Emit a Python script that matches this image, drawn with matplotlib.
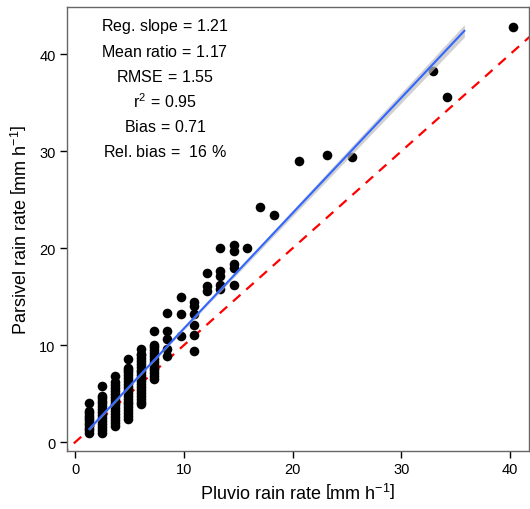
import matplotlib
matplotlib.use("Agg")
import matplotlib.pyplot as plt
import numpy as np

plt.rcParams['font.family'] = ['Liberation Sans', 'DejaVu Sans']
plt.rcParams['mathtext.fontset'] = 'custom'
plt.rcParams['mathtext.rm'] = 'Liberation Sans'
plt.rcParams['mathtext.it'] = 'Liberation Sans:italic'

# ---- data ----
col_x = [1.3, 2.5, 3.7, 4.9, 6.1, 7.3, 8.5, 9.7, 10.9, 12.1, 13.3, 14.6, 15.8]
col_y = [
    [1.0, 1.25, 1.5, 1.75, 2.0, 2.25, 2.5, 2.75, 3.0, 3.25, 4.1],
    [1.0, 1.3, 1.6, 1.9, 2.2, 2.5, 2.8, 3.1, 3.4, 3.7, 4.0, 4.3, 4.6, 4.8, 5.8],
    [1.7, 2.0, 2.3, 2.6, 2.9, 3.2, 3.5, 3.8, 4.1, 4.4, 4.7, 5.0, 5.3, 5.6, 5.9, 6.2, 6.8],
    [2.4, 2.7, 3.0, 3.3, 3.6, 3.9, 4.2, 4.5, 4.8, 5.1, 5.4, 5.7, 6.0, 6.3, 6.6,
     6.9, 7.2, 7.5, 7.7, 8.6],
    [3.9, 4.2, 4.5, 4.8, 5.1, 5.4, 5.7, 6.0, 6.3, 6.6, 6.9, 7.2, 7.5, 7.8, 8.1,
     8.4, 8.7, 9.0, 9.1, 9.6],
    [6.5, 6.8, 7.1, 7.4, 7.7, 8.0, 8.3, 8.6, 8.9, 9.2, 9.5, 9.8, 10.0, 11.5],
    [8.85, 9.6, 10.65, 11.5, 13.3],
    [11.0, 13.2, 15.0],
    [9.45, 11.1, 12.1, 13.2, 14.1, 14.5],
    [15.6, 16.1, 17.5],
    [15.8, 16.2, 17.1, 17.7, 20.0],
    [16.25, 18.0, 18.4, 19.7, 20.3],
    [20.0],
]
extra_x = [17.0, 18.3, 20.6, 23.2, 25.5, 32.9, 34.2, 40.3]
extra_y = [24.3, 23.4, 29.0, 29.6, 29.4, 38.25, 35.6, 42.8]

fit_slope = 1.19
fit_intercept = -0.18
fit_range = [1.3, 35.8]

stats_lines = [r"Reg. slope$\,=\,$1.21", r"Mean ratio$\,=\,$1.17", r"RMSE$\,=\,$1.55",
               r"r$^2\,=\,$0.95", r"Bias$\,=\,$0.71", r"Rel. bias$\,=\,$ 16 %"]

xticks = [0, 10, 20, 30, 40]
yticks = [0, 10, 20, 30, 40]

# ---- build point arrays ----
px = []
py = []
for xv, ys in zip(col_x, col_y):
    px += [xv] * len(ys)
    py += ys
px += extra_x
py += extra_y

fig = plt.figure(figsize=(5.3, 5.1), dpi=100)
ax = fig.add_axes([66.7 / 530, 1 - 451.7 / 510, (528.5 - 66.7) / 530, (451.7 - 8.3) / 510])
ax.set_xlim(-0.77, 41.7)
ax.set_ylim(-0.87, 44.85)

# 1:1 line
ax.plot([-5, 50], [-5, 50], color='#FF0000', lw=1.6, ls=(0, (4.5, 3.5)), zorder=2)

# points
ax.scatter(px, py, s=48, color='black', linewidths=0, zorder=3)

# regression + CI band
fx = np.linspace(fit_range[0], fit_range[1], 100)
fy = fit_slope * fx + fit_intercept
hw = np.sqrt(0.12 ** 2 + (0.0215 * (fx - 6.0)) ** 2)
ax.fill_between(fx, fy - hw, fy + hw, color='#BEBEBE', alpha=0.7, lw=0, zorder=4)
ax.plot(fx, fy, color='#3366FF', lw=1.5, zorder=5)

# stats text
ys_txt = [27, 52, 77, 102, 127, 152]
for t, yp in zip(stats_lines, ys_txt):
    fig.text(165 / 530, 1 - yp / 510, t, ha='center', va='center', fontsize=11.5)

ax.set_xticks(xticks)
ax.set_yticks(yticks)
ax.tick_params(direction='out', length=5, width=1, labelsize=10.5, pad=3, color='black')
for sp in ax.spines.values():
    sp.set_color('#666666')
    sp.set_linewidth(1)

ax.set_xlabel(r"Pluvio rain rate $\left[\mathrm{mm\ h^{-1}}\right]$", fontsize=13, labelpad=5)
ax.set_ylabel(r"Parsivel rain rate $\left[\mathrm{mm\ h^{-1}}\right]$", fontsize=13, labelpad=6)

fig.savefig("out.png", dpi=100)
